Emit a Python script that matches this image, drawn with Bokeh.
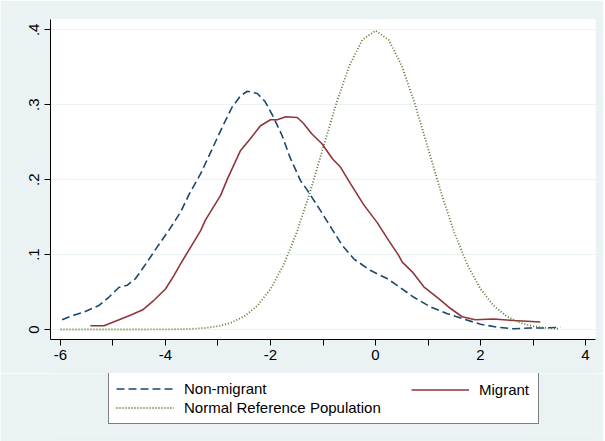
from bokeh.plotting import figure
from bokeh.models import Range1d, FixedTicker, Legend, LegendItem
from bokeh.layouts import column
from bokeh.embed import file_html
from bokeh.resources import INLINE

# ---- data ----
nonmig_x = [-5.97, -5.75, -5.56, -5.27, -5.08, -4.89, -4.73, -4.57, -4.35, -4.16, -3.94, -3.71,
            -3.56, -3.33, -3.11, -2.92, -2.73, -2.57, -2.44, -2.25, -2.10, -1.94, -1.78, -1.63,
            -1.43, -1.30, -1.05, -0.82, -0.63, -0.41, -0.10, 0.22, 0.41, 0.73, 1.05, 1.37, 1.68,
            2.00, 2.32, 2.63, 2.95, 3.21, 3.52]
nonmig_y = [0.013, 0.019, 0.023, 0.032, 0.043, 0.056, 0.059, 0.068, 0.090, 0.110, 0.132, 0.157,
            0.179, 0.208, 0.241, 0.270, 0.297, 0.312, 0.318, 0.315, 0.304, 0.283, 0.259, 0.230,
            0.199, 0.186, 0.159, 0.133, 0.112, 0.094, 0.079, 0.068, 0.059, 0.043, 0.030, 0.021, 0.014,
            0.007, 0.003, 0.001, 0.002, 0.002, 0.003]

mig_x = [-5.43, -5.17, -4.92, -4.67, -4.44, -4.22, -4.00, -3.84, -3.71, -3.33, -3.24, -2.95,
         -2.82, -2.57, -2.38, -2.19, -2.00, -1.87, -1.71, -1.49, -1.37, -1.21, -1.02, -0.82,
         -0.67, -0.48, -0.22, 0.03, 0.25, 0.44, 0.51, 0.70, 0.92, 1.21, 1.43, 1.65, 1.90,
         2.25, 2.63, 3.14]
mig_y = [0.005, 0.005, 0.012, 0.019, 0.026, 0.039, 0.054, 0.072, 0.088, 0.132, 0.146, 0.179,
         0.201, 0.239, 0.255, 0.272, 0.280, 0.280, 0.284, 0.283, 0.275, 0.261, 0.248, 0.228,
         0.217, 0.195, 0.166, 0.143, 0.119, 0.099, 0.090, 0.077, 0.057, 0.041, 0.028, 0.017, 0.013,
         0.014, 0.012, 0.010]

norm_x = [-6.0, -5.5, -5.0, -4.5, -4.0, -3.75, -3.5, -3.25, -3.0, -2.75, -2.5, -2.25, -2.0,
          -1.75, -1.5, -1.25, -1.0, -0.75, -0.5, -0.25, 0.0, 0.25, 0.5, 0.75, 1.0, 1.25,
          1.5, 1.75, 2.0, 2.25, 2.5, 2.75, 3.0, 3.25, 3.5]
norm_y = [0.0, 0.0, 0.0, 0.0, 0.0001, 0.0004, 0.0009, 0.002, 0.0044, 0.0091, 0.0175, 0.0317, 0.054,
          0.0863, 0.1295, 0.1826, 0.242, 0.3011, 0.3521, 0.3867, 0.3989, 0.3867, 0.3521, 0.3011, 0.242, 0.1826,
          0.1295, 0.0863, 0.054, 0.0317, 0.0175, 0.0091, 0.0044, 0.002, 0.0009]

x_ticks = [-6, -4, -2, 0, 2, 4]
x_tick_labels = ["-6", "-4", "-2", "0", "2", "4"]
x_minor_ticks = [-5, -3, -1, 1, 3]
y_ticks = [0, 0.1, 0.2, 0.3, 0.4]
y_tick_labels = ["0", ".1", ".2", ".3", ".4"]

series_names = ["Non-migrant", "Migrant", "Normal Reference Population"]

BG = "#EAF2F3"
NAVY = "#1A476F"
MAROON = "#90353B"
GREEN = "#55752F"
FONT = "Liberation Sans"
FS = "15px"
styles = {
    "non": dict(line_color=NAVY, line_width=1.6, line_dash="8 4"),
    "mig": dict(line_color=MAROON, line_width=1.6),
    "norm": dict(line_color=GREEN, line_width=1.8, line_dash="1 2"),
}

# ---------------- main plot ----------------
p = figure(frame_width=545, frame_height=320, output_backend="svg", toolbar_location=None,
           x_range=Range1d(-6.19, 4.19), y_range=Range1d(-0.01335, 0.4138),
           min_border_left=50, min_border_right=8, min_border_top=19, min_border_bottom=34)
p.border_fill_color = BG
p.background_fill_color = "white"
p.outline_line_color = None

p.line(nonmig_x, nonmig_y, **styles["non"])
p.line(mig_x, mig_y, **styles["mig"])
p.line(norm_x, norm_y, **styles["norm"])

p.xaxis.ticker = FixedTicker(ticks=x_ticks, minor_ticks=x_minor_ticks)
p.xaxis.major_label_overrides = {t: l for t, l in zip(x_ticks, x_tick_labels)}
p.yaxis.ticker = FixedTicker(ticks=y_ticks)
p.yaxis.major_label_overrides = {t: l for t, l in zip(y_ticks, y_tick_labels)}
p.yaxis.major_label_orientation = "vertical"
for ax in (p.xaxis[0], p.yaxis[0]):
    ax.axis_line_color = "black"
    ax.axis_line_width = 1
    ax.major_tick_line_color = "black"
    ax.major_tick_out = 6
    ax.major_tick_in = 0
    ax.major_label_text_font = FONT
    ax.major_label_text_font_size = FS
    ax.major_label_text_color = "black"
p.xaxis.minor_tick_out = 6
p.xaxis.minor_tick_in = 0
p.xaxis.minor_tick_line_color = "black"
p.yaxis.minor_tick_line_color = None
p.xaxis.major_label_standoff = 4
p.yaxis.major_label_standoff = 5

p.xgrid.grid_line_color = None
p.ygrid.ticker = FixedTicker(ticks=y_ticks)
p.ygrid.grid_line_color = BG
p.ygrid.grid_line_width = 1.2

# ---------------- legend strip (same borders as the main plot) ----------------
lg = figure(frame_width=545, frame_height=60, output_backend="svg", toolbar_location=None,
            x_range=Range1d(0, 1), y_range=Range1d(0, 1),
            x_axis_type=None, y_axis_type=None,
            min_border_left=50, min_border_right=8, min_border_top=0, min_border_bottom=8)
lg.border_fill_color = BG
lg.background_fill_color = BG
lg.outline_line_color = None
lg.xgrid.visible = False
lg.ygrid.visible = False

nan = float("nan")
k_non = lg.line([nan], [nan], **styles["non"])
k_mig = lg.line([nan], [nan], **styles["mig"])
k_norm = lg.line([nan], [nan], **styles["norm"])


def make_legend(items, loc):
    L = Legend(items=items, location=loc, orientation="vertical")
    L.border_line_color = None
    L.background_fill_alpha = 0
    L.label_text_font = FONT
    L.label_text_font_size = FS
    L.label_text_color = "black"
    L.glyph_width = 58
    L.glyph_height = 17
    L.label_height = 17
    L.label_standoff = 10
    L.spacing = 2
    L.padding = 7
    L.margin = 0
    return L


# box legend: first column + frame of the whole legend box
leg_a = make_legend([LegendItem(label=series_names[0], renderers=[k_non]),
                     LegendItem(label=series_names[2], renderers=[k_norm])], (58, 9))
leg_a.label_width = 347
leg_a.border_line_color = "black"
leg_a.border_line_width = 1
leg_a.background_fill_color = "white"
leg_a.background_fill_alpha = 1
# second column
leg_b = make_legend([LegendItem(label=series_names[1], renderers=[k_mig])], (361, 35))
lg.add_layout(leg_a, "center")
lg.add_layout(leg_b, "center")

layout = column(p, lg, spacing=0)
open("out.html", "w").write(file_html(layout, INLINE))
